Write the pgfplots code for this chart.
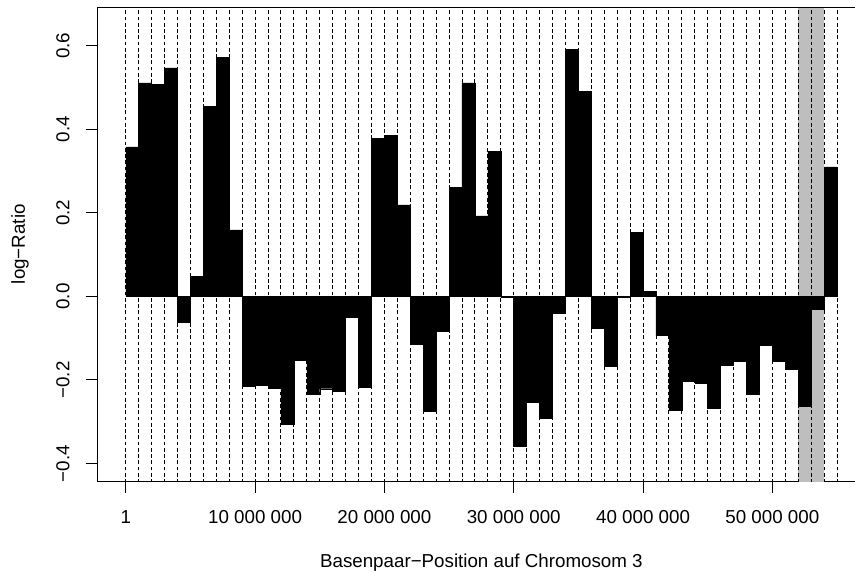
\documentclass[border=0pt]{standalone}
\usepackage{fontspec}
\setmainfont{Liberation Sans}
\usepackage{pgfplots}
\usepackage{pgfplotstable}
\pgfplotsset{compat=1.18}
\definecolor{rgrey}{HTML}{BEBEBE}
\pgfplotstableread{
x y
0 0.358
1 0.511
2 0.507
3 0.547
4 -0.0625
5 0.048
6 0.454
7 0.572
8 0.159
9 -0.216
10 -0.213
11 -0.220
12 -0.305
13 -0.152
14 -0.233
15 -0.221
16 -0.228
17 -0.0505
18 -0.218
19 0.379
20 0.385
21 0.219
22 -0.115
23 -0.275
24 -0.084
25 0.261
26 0.511
27 0.193
28 0.347
29 -0.003
30 -0.358
31 -0.253
32 -0.292
33 -0.040
34 0.592
35 0.490
36 -0.076
37 -0.168
38 -0.003
39 0.153
40 0.012
41 -0.094
42 -0.272
43 -0.204
44 -0.208
45 -0.268
46 -0.164
47 -0.156
48 -0.235
49 -0.118
50 -0.156
51 -0.174
52 -0.262
53 -0.031
54 0.310
55 0.310
}\bins
\begin{document}
\begin{tikzpicture}
\begin{axis}[
  scale only axis,
  width=484.9pt, height=303.2pt,
  xmin=-2.2, xmax=56.39, ymin=-0.442, ymax=0.692,
  axis lines*=left,
  axis line style={line width=0.64pt},
  xtick={0,10,20,30,40,50},
  xticklabels={1,{10 000 000},{20 000 000},{30 000 000},{40 000 000},{50 000 000}},
  ytick={-0.4,-0.2,0,0.2,0.4,0.6},
  yticklabels={−0.4,−0.2,0.0,0.2,0.4,0.6},
  tick align=outside,
  major tick length=7.5pt,
  tick style={black, line width=0.64pt},
  every x tick label/.style={font=\fontsize{12}{14}\selectfont, anchor=north, inner sep=0pt, yshift=-11.1pt},
  every y tick label/.style={font=\fontsize{12}{14}\selectfont, xshift=-10.3pt, rotate=90, anchor=base, inner sep=0pt},
  xlabel={Basenpaar−Position auf Chromosom 3},
  ylabel={log−Ratio},
  every axis x label/.style={at={(axis description cs:0.5069,0)}, anchor=north, inner sep=0pt, yshift=-46.3pt, font=\fontsize{12}{14}\selectfont},
  every axis y label/.style={at={(axis description cs:0,0.5)}, xshift=-46.3pt, rotate=90, anchor=base, inner sep=0pt, font=\fontsize{12}{14}\selectfont},
]
\addplot[fill=rgrey, draw=none] coordinates {(52,-1) (54,-1) (54,1) (52,1)} -- cycle;
\pgfplotsinvokeforeach{0,...,55}{
  \addplot[black, line width=0.6pt, dash pattern=on 2.4pt off 1.6pt] coordinates {(#1,-1) (#1,1)};
}
\addplot[ybar interval, fill=black, draw=black, line width=0.3pt] table[x=x, y=y] {\bins};
\draw[line width=0.64pt] (rel axis cs:0,1) -- (rel axis cs:1,1);
\coordinate (bl) at (rel axis cs:0,0);
\coordinate (tr) at (rel axis cs:1,1);
\end{axis}
\pgfresetboundingbox
\path ([xshift=-62.27pt, yshift=-59.52pt]bl) rectangle ([yshift=4.67pt]tr);
\end{tikzpicture}
\end{document}
